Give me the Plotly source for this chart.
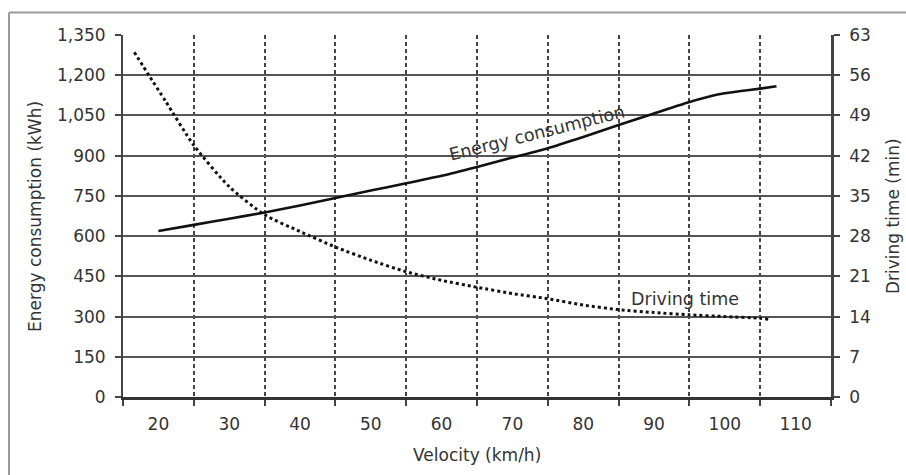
import plotly.graph_objects as go

# Energy consumption (kWh) vs velocity (km/h)
energy_v = [20, 25, 30, 35, 40, 45, 50, 55, 60, 65, 70, 75, 80, 85, 90, 95, 99, 102, 105, 107.3]
energy_kwh = [619, 642, 665, 688, 714, 742, 770, 797, 825, 858, 893, 928, 970, 1014, 1057, 1100, 1128, 1140, 1150, 1159]

# Driving time (min) vs velocity (km/h)
time_v = [16.6, 18.6, 21, 25, 30, 35, 40, 45, 50, 55, 60, 65, 70, 75, 80, 85, 90, 95, 100, 105, 106.3]
time_min = [60.0, 56.1, 51.5, 43.8, 36.6, 31.7, 28.8, 26.1, 23.8, 21.8, 20.3, 19.1, 18.0, 17.1, 16.0, 15.2, 14.7, 14.3, 14.0, 13.7, 13.5]

x_tick_vals = [20, 30, 40, 50, 60, 70, 80, 90, 100, 110]
x_tick_text = ["20", "30", "40", "50", "60", "70", "80", "90", "100", "110"]
y_left_ticks = [0, 150, 300, 450, 600, 750, 900, 1050, 1200, 1350]
y_right_ticks = [0, 7, 14, 21, 28, 35, 42, 49, 56, 63]

FONT = "DejaVu Sans"
TXT = "#333333"

fig = go.Figure()
fig.add_trace(go.Scatter(x=energy_v, y=energy_kwh, mode="lines", yaxis="y",
                         line=dict(color="#111111", width=2.6, shape="spline", smoothing=0.6),
                         showlegend=False, hoverinfo="skip"))
fig.add_trace(go.Scatter(x=time_v, y=time_min, mode="lines", yaxis="y2",
                         line=dict(color="#111111", width=3, dash="dot", shape="spline", smoothing=0.6),
                         showlegend=False, hoverinfo="skip"))

fig.update_layout(
    width=906, height=475,
    margin=dict(l=123, r=75, t=35, b=78),
    paper_bgcolor="white", plot_bgcolor="white",
    font=dict(family=FONT, size=17, color=TXT),
    xaxis=dict(
        range=[15, 115], tickmode="array", tickvals=x_tick_vals, ticktext=x_tick_text,
        showgrid=False, zeroline=False,
        showline=True, linecolor="#333333", linewidth=2.5,
        ticks="outside", ticklen=10, tickcolor="rgba(0,0,0,0)",
        tickfont=dict(family=FONT, size=17, color=TXT),
        minor=dict(tickmode="array", tickvals=[15, 25, 35, 45, 55, 65, 75, 85, 95, 105, 115],
                   ticks="outside", ticklen=6, tickcolor="#444444", tickwidth=1.5,
                   showgrid=True, griddash="4px,3px", gridcolor="#444444", gridwidth=1.5),
    ),
    yaxis=dict(
        range=[0, 1350], tickmode="array", tickvals=y_left_ticks, tickformat=",",
        showgrid=True, gridcolor="#555555", gridwidth=1.6, zeroline=False,
        showline=True, linecolor="#444444", linewidth=2,
        ticks="outside", ticklen=6, tickcolor="#444444", tickwidth=1.5,
        ticklabelstandoff=6,
        tickfont=dict(family=FONT, size=17, color=TXT),
    ),
    yaxis2=dict(
        range=[0, 63], tickmode="array", tickvals=y_right_ticks,
        overlaying="y", side="right", showgrid=False, zeroline=False,
        showline=True, linecolor="#444444", linewidth=2.5,
        ticks="outside", ticklen=6, tickcolor="#444444", tickwidth=1.5,
        ticklabelstandoff=6,
        tickfont=dict(family=FONT, size=17, color=TXT),
    ),
    annotations=[
        dict(text="Energy consumption", x=73.5, y=983, xref="x", yref="y",
             showarrow=False, textangle=-14, font=dict(family=FONT, size=17.5, color=TXT)),
        dict(text="Driving time", x=94.4, y=365, xref="x", yref="y",
             showarrow=False, font=dict(family=FONT, size=17.5, color=TXT)),
        dict(text="Energy consumption (kWh)", x=-0.1243, y=0.5, xref="paper", yref="paper",
             showarrow=False, textangle=-90, xanchor="center", yanchor="middle",
             font=dict(family=FONT, size=17, color=TXT)),
        dict(text="Driving time (min)", x=1.0876, y=0.5, xref="paper", yref="paper",
             showarrow=False, textangle=-90, xanchor="center", yanchor="middle",
             font=dict(family=FONT, size=17, color=TXT)),
        dict(text="Velocity (km/h)", x=0.5, y=-0.16, xref="paper", yref="paper",
             showarrow=False, xanchor="center", yanchor="middle",
             font=dict(family=FONT, size=17, color=TXT)),
    ],
    shapes=[
        dict(type="line", xref="paper", yref="paper", x0=-0.161, x1=1.3, y0=1.062, y1=1.062,
             line=dict(color="#999999", width=2)),
        dict(type="line", xref="paper", yref="paper", x0=-0.161, x1=-0.161, y0=1.062, y1=-0.4,
             line=dict(color="#999999", width=2)),
    ],
)

fig.write_html("out.html")
